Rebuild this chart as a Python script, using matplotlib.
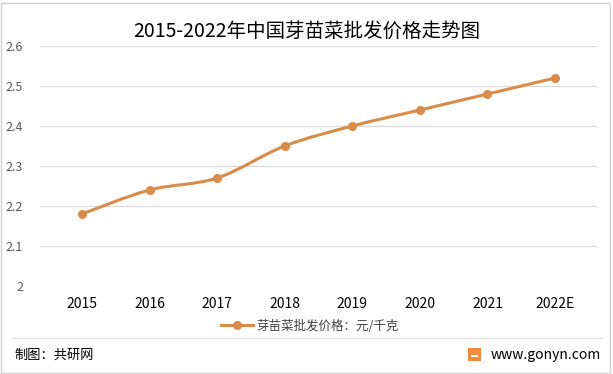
import matplotlib
matplotlib.use("Agg")
import matplotlib.pyplot as plt
from matplotlib.path import Path
from matplotlib.patches import PathPatch, Rectangle
from matplotlib.lines import Line2D
import numpy as np

plt.rcParams["font.family"] = ["Noto Sans CJK SC", "DejaVu Sans"]

years = ["2015", "2016", "2017", "2018", "2019", "2020", "2021", "2022E"]
prices = [2.18, 2.24, 2.27, 2.35, 2.40, 2.44, 2.48, 2.52]
title = "2015-2022年中国芽苗菜批发价格走势图"
legend_label = "芽苗菜批发价格：元/千克"
yticks = [2, 2.1, 2.2, 2.3, 2.4, 2.5, 2.6]

color = "#D98B4A"


def smooth_path(xs, ys, tension=1 / 6):
    """Catmull-Rom style bezier path through the points."""
    pts = np.column_stack([xs, ys])
    verts = [pts[0]]
    codes = [Path.MOVETO]
    n = len(pts)
    for i in range(n - 1):
        p0 = pts[max(i - 1, 0)]
        p1 = pts[i]
        p2 = pts[i + 1]
        p3 = pts[min(i + 2, n - 1)]
        c1 = p1 + (p2 - p0) * tension
        c2 = p2 - (p3 - p1) * tension
        verts += [c1, c2, p2]
        codes += [Path.CURVE4] * 3
    return Path(verts, codes)


W, H = 613, 374
fig = plt.figure(figsize=(W / 100, H / 100), dpi=100)
ax = fig.add_axes([40 / W, 1 - 286 / H, 557 / W, 240 / H])

x = np.arange(len(years))
ax.set_xlim(-0.62, len(years) - 0.38)
ax.set_ylim(2, 2.6)
ax.set_yticks(yticks)
ax.set_yticklabels(["2", "2.1", "2.2", "2.3", "2.4", "2.5", "2.6"])
ax.set_xticks(x)
ax.set_xticklabels(years)
ax.grid(axis="y", color="#D9D9D9", linewidth=0.9)
ax.set_axisbelow(True)
for s in ax.spines.values():
    s.set_visible(False)
ax.tick_params(axis="both", length=0)
ax.tick_params(axis="y", colors="#595959", labelsize=9, pad=12)
ax.tick_params(axis="x", colors="#000000", labelsize=10, pad=8)

ax.add_patch(PathPatch(smooth_path(x, prices), facecolor="none",
                       edgecolor=color, linewidth=2.2, capstyle="round"))
ax.plot(x, prices, "o", color=color, markersize=5.5, linestyle="none")

fig.text(307 / W, 1 - 31 / H, title, ha="center", va="center",
         fontsize=14, color="#000000")

handle = Line2D([], [], color=color, linewidth=2.2, marker="o", markersize=5.5)
fig.legend([handle], [legend_label], loc="center", bbox_to_anchor=(310 / W, 1 - 326 / H),
           frameon=False, fontsize=9, handlelength=2.6, handletextpad=0.3,
           labelcolor="#404040")

# frame and footer
fig.add_artist(Rectangle((1 / W, 1 / H), (W - 4) / W, (H - 4) / H, transform=fig.transFigure,
                         fill=False, edgecolor="#D0D0D0", linewidth=1))
fig.add_artist(Line2D([12 / W, 601 / W], [1 - 338 / H, 1 - 338 / H],
                      transform=fig.transFigure, color="#DDDDDD", linewidth=0.8))
fig.text(14 / W, 1 - 355 / H, "制图：共研网", ha="left", va="center",
         fontsize=9.5, color="#000000")
fig.add_artist(Rectangle((468 / W, 1 - 361 / H), 13 / W, 13 / H, transform=fig.transFigure,
                         facecolor="#F08A3C", edgecolor="none"))
fig.add_artist(Rectangle((471 / W, 1 - 357 / H), 7 / W, 2 / H, transform=fig.transFigure,
                         facecolor="white", edgecolor="none"))
fig.text(601 / W, 1 - 355 / H, "www.gonyn.com", ha="right", va="center",
         fontsize=10, color="#000000")

fig.savefig("out.png", dpi=100)
